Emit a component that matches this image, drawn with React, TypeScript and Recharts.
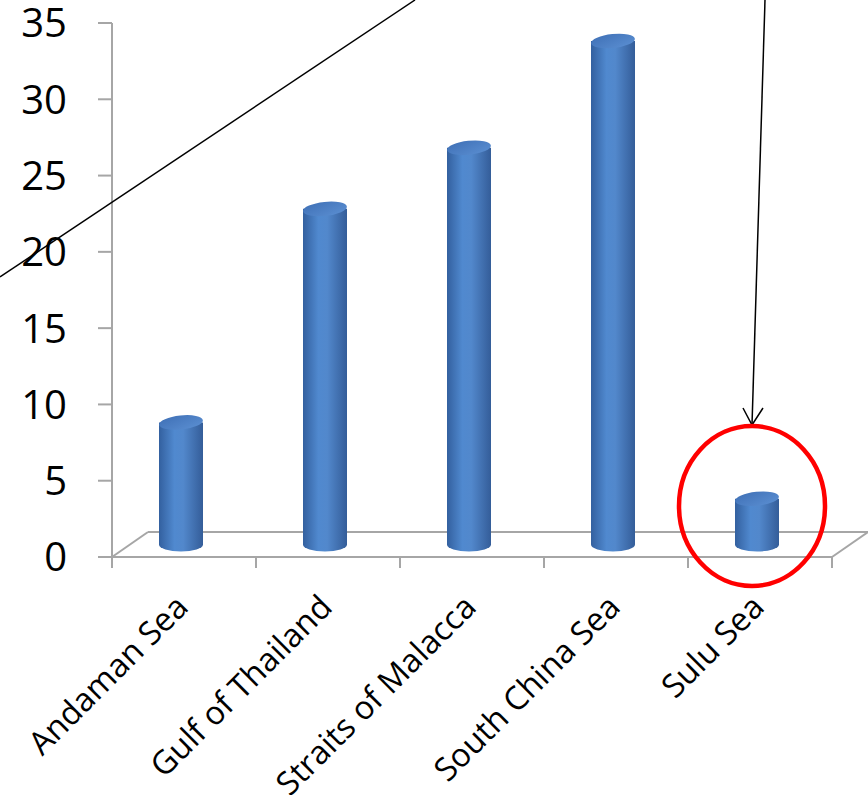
import { Bar, BarChart, XAxis, YAxis } from 'recharts';

const seas = ['Andaman Sea', 'Gulf of Thailand', 'Straits of Malacca', 'South China Sea', 'Sulu Sea'];
const counts = [8, 22, 26, 33, 3];
const yTicks = [0, 5, 10, 15, 20, 25, 30, 35];

const data = seas.map((name, i) => ({ name, value: counts[i] }));

const AXIS_GREY = '#a6a6a6';
const FONT = '"Open Sans", sans-serif';
// oblique 3D depth: bars stand at the middle of the floor
const DEPTH_UP = 12.5;
// half of one category band ((868 - 36 - 112) / 5 / 2), ticks sit between categories
const HALF_BAND = 72;

function Cylinder(props: any) {
  const { x, y, width, height } = props;
  const rx = width / 2;
  const ry = 7;
  const cx = x + rx - 3;
  const top = y - DEPTH_UP;
  const bottom = y + height - DEPTH_UP;
  const body = `M${cx - rx},${top} L${cx - rx},${bottom} A${rx},${ry} 0 0 0 ${cx + rx},${bottom} L${cx + rx},${top} Z`;
  return (
    <g>
      <path d={body} fill="url(#cylBody)" />
      <ellipse cx={cx} cy={top} rx={rx} ry={ry} fill="url(#cylTop)" transform={`rotate(-6 ${cx} ${top})`} />
    </g>
  );
}

function XTick(props: any) {
  const { x, y, payload, index } = props;
  const axisY = 557;
  const px = x + 6;
  const py = y + 44;
  return (
    <g>
      <line x1={x - HALF_BAND} y1={axisY} x2={x - HALF_BAND} y2={axisY + 11} stroke={AXIS_GREY} strokeWidth={2} />
      {index === seas.length - 1 && (
        <line x1={x + HALF_BAND} y1={axisY} x2={x + HALF_BAND} y2={axisY + 11} stroke={AXIS_GREY} strokeWidth={2} />
      )}
      <text
        x={px}
        y={py}
        textAnchor="end"
        fontSize={32.5}
        fontFamily={FONT}
        fill="#000"
        transform={`rotate(-45 ${px} ${py})`}
      >
        {payload.value}
      </text>
    </g>
  );
}

function YTick(props: any) {
  const { x, y, payload } = props;
  return (
    <text x={x - 29} y={y} dy="0.36em" textAnchor="end" fontSize={40} fontFamily={FONT} fill="#000">
      {payload.value}
    </text>
  );
}

export default function App() {
  return (
    <div style={{ position: 'absolute', left: 0, top: 0, width: 868, height: 795, background: '#fff' }}>
      {/* back edge and sides of the 3D floor, behind the bars */}
      <svg width={868} height={795} style={{ position: 'absolute', left: 0, top: 0 }}>
        <g stroke={AXIS_GREY} strokeWidth={2} fill="none">
          <line x1={148} y1={532} x2={868} y2={532} />
          <line x1={112} y1={557} x2={148} y2={532} />
          <line x1={832} y1={557} x2={868} y2={532} />
        </g>
      </svg>
      <div style={{ position: 'absolute', left: 0, top: 0 }}>
        <BarChart width={868} height={795} data={data} margin={{ top: 23, right: 36, bottom: 0, left: 0 }}>
          <defs>
            <linearGradient id="cylBody" x1="0" y1="0" x2="1" y2="0">
              <stop offset="0%" stopColor="#33609f" />
              <stop offset="35%" stopColor="#5089cf" />
              <stop offset="55%" stopColor="#5288cc" />
              <stop offset="100%" stopColor="#345d99" />
            </linearGradient>
            <linearGradient id="cylTop" x1="0" y1="0" x2="1" y2="1">
              <stop offset="0%" stopColor="#3f70b6" />
              <stop offset="100%" stopColor="#5b8fd2" />
            </linearGradient>
          </defs>
          <XAxis
            dataKey="name"
            height={238}
            interval={0}
            axisLine={{ stroke: AXIS_GREY, strokeWidth: 2 }}
            tickLine={false}
            tick={<XTick />}
          />
          <YAxis
            domain={[0, 35]}
            ticks={yTicks}
            width={112}
            tickSize={14}
            axisLine={{ stroke: AXIS_GREY, strokeWidth: 2 }}
            tickLine={{ stroke: AXIS_GREY, strokeWidth: 2 }}
            tick={<YTick />}
          />
          <Bar dataKey="value" barSize={44} shape={<Cylinder />} isAnimationActive={false} />
        </BarChart>
      </div>
      {/* annotations drawn over the chart */}
      <svg width={868} height={795} style={{ position: 'absolute', left: 0, top: 0, pointerEvents: 'none' }}>
        <line x1={0} y1={277} x2={415} y2={0} stroke="#000" strokeWidth={1.5} />
        <line x1={765} y1={0} x2={752} y2={425} stroke="#000" strokeWidth={1.5} />
        <polyline points="743,408 752,425 763,408" fill="none" stroke="#000" strokeWidth={1.5} />
        <ellipse cx={752} cy={506} rx={73} ry={80} fill="none" stroke="#ff0000" strokeWidth={4.5} />
      </svg>
    </div>
  );
}
